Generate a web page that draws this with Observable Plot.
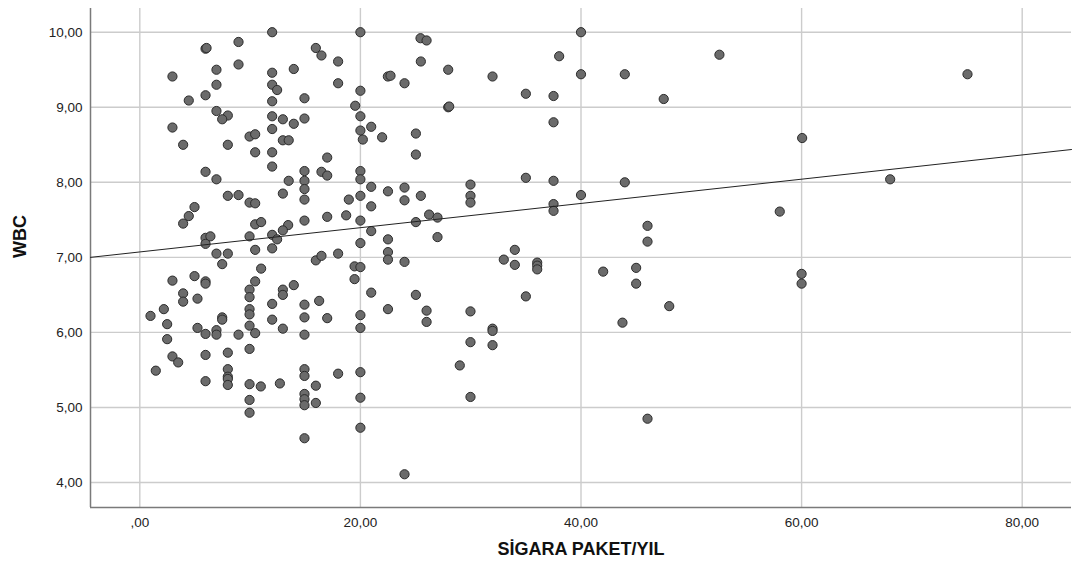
<!DOCTYPE html>
<html>
<head>
<meta charset="utf-8">
<script src="https://cdn.jsdelivr.net/npm/d3@7"></script>
<script src="https://cdn.jsdelivr.net/npm/@observablehq/plot@0.6"></script>
<style>
  html, body { margin: 0; padding: 0; background: #fff; }
  #chart svg { font-family: "Liberation Sans", Arial, sans-serif; }
</style>
</head>
<body>
<div id="chart"></div>
<script>
// SİGARA PAKET/YIL (x) and WBC (y) for each case
const paketYil = [
  2.96, 5.96, 6.05, 8.95, 12.0, 6.95, 8.95, 15.96, 16.47, 17.98,
  12.0, 13.96, 6.95, 12.0, 12.45, 17.98, 4.44, 5.96, 12.0, 14.93,
  6.95, 7.98, 7.47, 12.0, 12.97, 13.96, 14.93, 2.96, 12.0, 9.95,
  10.46, 3.93, 7.98, 12.97, 13.5, 10.46, 12.0, 16.99, 5.96, 6.95,
  12.0, 13.5, 14.93, 14.93, 14.93, 16.47, 16.99, 7.98, 8.95, 9.95,
  10.46, 12.97, 14.93, 18.95, 4.96, 4.44, 3.93, 10.46, 11.0, 13.45,
  12.97, 14.93, 16.99, 18.71, 5.96, 6.4, 5.96, 9.95, 12.0, 12.45,
  10.46, 12.0, 6.95, 7.98, 7.47, 15.96, 16.47, 17.98, 19.47, 19.47,
  2.96, 4.96, 5.96, 5.96, 3.93, 3.93, 5.23, 11.0, 10.46, 9.95,
  9.95, 12.97, 12.97, 13.96, 12.0, 14.93, 16.26, 0.97, 2.18, 2.48,
  2.48, 5.23, 5.96, 6.95, 6.95, 7.47, 7.47, 8.95, 9.95, 9.95,
  9.95, 10.46, 12.0, 12.97, 14.93, 14.93, 16.99, 9.95, 7.98, 5.96,
  2.96, 3.48, 1.45, 5.96, 7.98, 7.98, 7.98, 7.98, 9.95, 10.97,
  12.7, 9.95, 9.95, 14.93, 14.93, 14.93, 14.93, 14.93, 15.96, 15.96,
  14.93, 17.98,
  20.0, 25.45, 26.0, 40.0, 38.02, 25.48, 27.96, 22.49, 22.73, 24.0,
  31.98, 40.0, 43.97, 47.5, 35.0, 37.51, 20.0, 19.53, 27.96, 28.05,
  20.0, 20.98, 20.0, 20.22, 21.97, 25.03, 37.51, 25.03, 20.0, 20.0,
  20.98, 22.5, 24.0, 29.98, 35.0, 37.51, 43.97, 20.0, 20.98, 24.0,
  25.48, 29.98, 29.98, 40.0, 37.51, 37.51, 20.0, 20.98, 25.03, 26.23,
  26.99, 26.99, 22.5, 20.0, 22.5, 22.5, 24.0, 20.0, 34.0, 33.0,
  34.0, 36.03, 36.03, 36.03, 46.03, 46.03, 42.01, 45.0, 45.0, 48.0,
  43.76, 35.0, 20.98, 25.03, 22.5, 26.0, 26.0, 29.98, 20.0, 20.0,
  31.98, 31.98, 29.98, 31.98, 20.0, 29.01, 20.0, 29.98, 20.0, 24.0,
  46.03,
  52.55, 75.04, 60.05, 68.03, 58.02, 60.0, 60.0
];
const wbc = [
  9.41, 9.78, 9.79, 9.87, 10.0, 9.50, 9.57, 9.79, 9.69, 9.61,
  9.46, 9.51, 9.30, 9.30, 9.23, 9.32, 9.09, 9.16, 9.08, 9.12,
  8.95, 8.89, 8.84, 8.88, 8.84, 8.78, 8.85, 8.73, 8.71, 8.61,
  8.64, 8.50, 8.50, 8.56, 8.56, 8.40, 8.40, 8.33, 8.14, 8.04,
  8.21, 8.02, 8.15, 8.02, 7.91, 8.14, 8.09, 7.82, 7.83, 7.73,
  7.72, 7.85, 7.77, 7.77, 7.67, 7.55, 7.45, 7.44, 7.47, 7.43,
  7.36, 7.49, 7.54, 7.56, 7.26, 7.28, 7.18, 7.28, 7.30, 7.24,
  7.10, 7.12, 7.05, 7.05, 6.91, 6.96, 7.02, 7.05, 6.88, 6.71,
  6.69, 6.75, 6.68, 6.65, 6.52, 6.41, 6.45, 6.85, 6.68, 6.57,
  6.47, 6.57, 6.50, 6.63, 6.38, 6.37, 6.42, 6.22, 6.31, 6.11,
  5.91, 6.06, 5.98, 6.03, 5.97, 6.20, 6.17, 5.97, 6.31, 6.24,
  6.09, 5.99, 6.17, 6.05, 6.20, 5.97, 6.19, 5.78, 5.73, 5.70,
  5.68, 5.60, 5.49, 5.35, 5.51, 5.41, 5.38, 5.30, 5.31, 5.28,
  5.32, 5.10, 4.93, 5.51, 5.42, 5.18, 5.11, 5.03, 5.29, 5.06,
  4.59, 5.45,
  10.0, 9.92, 9.89, 10.0, 9.68, 9.61, 9.50, 9.41, 9.42, 9.32,
  9.41, 9.44, 9.44, 9.11, 9.18, 9.15, 9.22, 9.02, 9.00, 9.01,
  8.88, 8.74, 8.69, 8.57, 8.60, 8.65, 8.80, 8.37, 8.15, 8.04,
  7.94, 7.88, 7.93, 7.97, 8.06, 8.02, 8.00, 7.82, 7.68, 7.76,
  7.82, 7.82, 7.73, 7.83, 7.71, 7.62, 7.49, 7.35, 7.47, 7.57,
  7.53, 7.27, 7.24, 7.19, 7.07, 6.97, 6.94, 6.87, 7.10, 6.97,
  6.90, 6.93, 6.89, 6.84, 7.42, 7.21, 6.81, 6.86, 6.65, 6.35,
  6.13, 6.48, 6.53, 6.50, 6.31, 6.29, 6.14, 6.28, 6.23, 6.06,
  6.05, 6.02, 5.87, 5.83, 5.47, 5.56, 5.13, 5.14, 4.73, 4.11,
  4.85,
  9.70, 9.44, 8.59, 8.04, 7.61, 6.78, 6.65
];

// Fit line (linear) end points
const fitX = [-4.47, 84.47];
const fitY = [7.00, 8.437];

const xTicks = [0, 20, 40, 60, 80];
const yTicks = [4, 5, 6, 7, 8, 9, 10];
const xDomain = [-4.47, 84.47];
const yDomain = [3.667, 10.316];

const xTitle = "SİGARA PAKET/YIL";
const yTitle = "WBC";

const fmt = v => { let s = v.toFixed(2).replace(".", ","); if (s.startsWith("0,")) s = s.slice(1); return s; };

const points = paketYil.map((x, i) => ({x, y: wbc[i]}));
const fit = fitX.map((x, i) => ({x, y: fitY[i]}));

const chart = Plot.plot({
  width: 1075,
  height: 570,
  marginLeft: 90,
  marginRight: 4,
  marginTop: 8,
  marginBottom: 63,
  style: {fontFamily: '"Liberation Sans", Arial, sans-serif', fontSize: "13.5px", color: "#222", background: "#fff"},
  x: {domain: xDomain, ticks: xTicks, tickFormat: fmt},
  y: {domain: yDomain, ticks: yTicks, tickFormat: fmt},
  marks: [
    Plot.gridX(xTicks, {stroke: "#cccccc", strokeOpacity: 1, strokeWidth: 1.4}),
    Plot.gridY(yTicks, {stroke: "#cccccc", strokeOpacity: 1, strokeWidth: 1.4}),
    Plot.axisX(xTicks, {tickSize: 0, tickPadding: 10, label: null, tickFormat: fmt}),
    Plot.axisY(yTicks, {tickSize: 0, tickPadding: 8, label: null, tickFormat: fmt}),
    Plot.ruleX([xDomain[0]], {stroke: "#7a7a7a", strokeWidth: 1.5}),
    Plot.ruleY([yDomain[0]], {stroke: "#7a7a7a", strokeWidth: 1.5}),
    Plot.dot(points, {x: "x", y: "y", r: 4.6, fill: "#6b6b6b", stroke: "#2b2b2b", strokeWidth: 1}),
    Plot.line(fit, {x: "x", y: "y", stroke: "#222", strokeWidth: 1}),
    Plot.text([xTitle], {frameAnchor: "bottom", dy: 47, fontSize: 18, fontWeight: "bold", fill: "#111"}),
    Plot.text([yTitle], {frameAnchor: "left", dx: -70, rotate: -90, fontSize: 18, fontWeight: "bold", fill: "#111"})
  ]
});
document.getElementById("chart").appendChild(chart);
</script>
</body>
</html>
